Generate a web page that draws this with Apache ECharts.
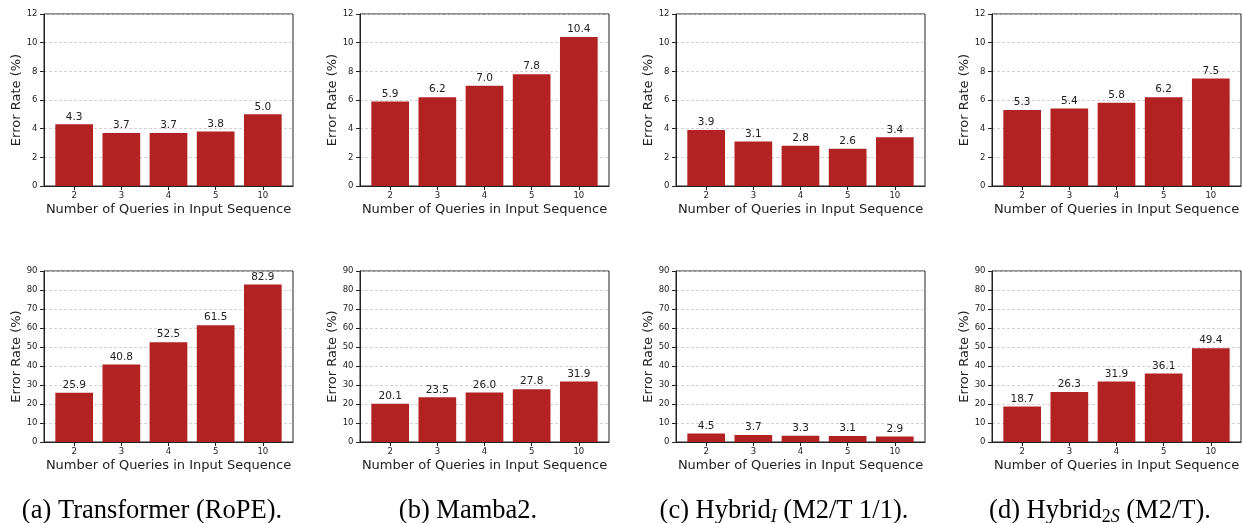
<!DOCTYPE html>
<html lang="en">
<head>
    <meta charset="UTF-8">
    <title>Error rate vs number of queries</title>
    <script type="text/javascript" src="https://cdn.jsdelivr.net/npm/echarts@6/dist/echarts.min.js"></script>
    <style>
        html, body { margin: 0; padding: 0; background: #fff; }
    </style>
</head>
<body>
<div id="main" style="width: 1242px;height:523px;"></div>
<script type="text/javascript">
    // x categories
    var queries = ['2', '3', '4', '5', '10'];

    // top row (error rate, %)
    var transformerTop = [4.3, 3.7, 3.7, 3.8, 5.0];
    var mambaTop = [5.9, 6.2, 7.0, 7.8, 10.4];
    var hybridITop = [3.9, 3.1, 2.8, 2.6, 3.4];
    var hybrid2STop = [5.3, 5.4, 5.8, 6.2, 7.5];

    // bottom row (error rate, %)
    var transformerBottom = [25.9, 40.8, 52.5, 61.5, 82.9];
    var mambaBottom = [20.1, 23.5, 26.0, 27.8, 31.9];
    var hybridIBottom = [4.5, 3.7, 3.3, 3.1, 2.9];
    var hybrid2SBottom = [18.7, 26.3, 31.9, 36.1, 49.4];

    // y axis ranges
    var topMax = 12, topStep = 2;
    var bottomMax = 90, bottomStep = 10;

    var panels = [
        transformerTop, mambaTop, hybridITop, hybrid2STop,
        transformerBottom, mambaBottom, hybridIBottom, hybrid2SBottom
    ];

    var lefts = [44, 360, 676, 992];
    var font = 'DejaVu Sans';
    var ink = '#222';

    var grids = [], xAxes = [], yAxes = [], series = [];
    var tickPos = queries.map(function (q, i) { return i; });

    panels.forEach(function (vals, i) {
        var row = i < 4 ? 0 : 1;
        grids.push({
            left: lefts[i % 4],
            top: row === 0 ? 14 : 271,
            width: 249,
            height: row === 0 ? 172 : 171,
            show: true,
            borderColor: ink,
            borderWidth: 1,
            containLabel: false
        });
        xAxes.push({
            type: 'value',
            gridIndex: i,
            min: -0.64,
            max: 4.64,
            name: 'Number of Queries in Input Sequence',
            nameLocation: 'middle',
            nameGap: 17,
            nameTextStyle: { fontFamily: font, fontSize: 13, color: ink },
            axisLine: { show: true, onZero: false, lineStyle: { color: ink, width: 1 } },
            axisTick: { show: true, length: 4, customValues: tickPos, lineStyle: { color: ink } },
            axisLabel: {
                show: true,
                customValues: tickPos,
                margin: 5,
                fontFamily: font,
                fontSize: 8.5,
                color: ink,
                formatter: function (v) { return queries[Math.round(v)]; }
            },
            splitLine: { show: false }
        });
        yAxes.push({
            type: 'value',
            gridIndex: i,
            min: 0,
            max: row === 0 ? topMax : bottomMax,
            interval: row === 0 ? topStep : bottomStep,
            name: 'Error Rate (%)',
            nameLocation: 'middle',
            nameGap: 20,
            nameTextStyle: { fontFamily: font, fontSize: 13, color: ink },
            axisLine: { show: true, onZero: false, lineStyle: { color: ink, width: 1 } },
            axisTick: { show: true, length: 4, lineStyle: { color: ink } },
            axisLabel: { margin: 6.5, fontFamily: font, fontSize: 8.5, color: ink },
            splitLine: { show: true, lineStyle: { color: '#c8c8c8', type: [3, 2], width: 0.8 } }
        });
        series.push({
            type: 'bar',
            xAxisIndex: i,
            yAxisIndex: i,
            barWidth: 37.7,
            itemStyle: { color: '#b22222' },
            label: {
                show: true,
                position: 'top',
                distance: 2,
                fontFamily: font,
                fontSize: 10.5,
                color: ink,
                formatter: function (p) { return p.value[1].toFixed(1); }
            },
            data: vals.map(function (v, j) { return [j, v]; })
        });
    });

    var capFont = 'Liberation Serif';
    var capRich = {
        n: { fontFamily: capFont, fontSize: 26.5, color: '#000', lineHeight: 30 },
        s: { fontFamily: capFont, fontSize: 18, color: '#000', lineHeight: 17, verticalAlign: 'bottom' },
        si: { fontFamily: capFont, fontSize: 18, color: '#000', lineHeight: 17, verticalAlign: 'bottom', fontStyle: 'italic' }
    };
    var captions = [
        { x: 152, text: '{n|(a) Transformer (RoPE).}' },
        { x: 468, text: '{n|(b) Mamba2.}' },
        { x: 784, text: '{n|(c) Hybrid}{si|I}{n| (M2/T 1/1).}' },
        { x: 1100, text: '{n|(d) Hybrid}{s|2}{si|S}{n| (M2/T).}' }
    ];

    var option = {
        animation: false,
        backgroundColor: '#fff',
        grid: grids,
        xAxis: xAxes,
        yAxis: yAxes,
        series: series,
        graphic: captions.map(function (c) {
            return {
                type: 'text',
                x: c.x,
                y: 511,
                style: {
                    text: c.text,
                    rich: capRich,
                    align: 'center',
                    verticalAlign: 'middle',
                    textAlign: 'center',
                    textVerticalAlign: 'middle'
                }
            };
        })
    };

    var myChart = echarts.init(document.getElementById('main'));
    myChart.setOption(option);
</script>
</body>
</html>
